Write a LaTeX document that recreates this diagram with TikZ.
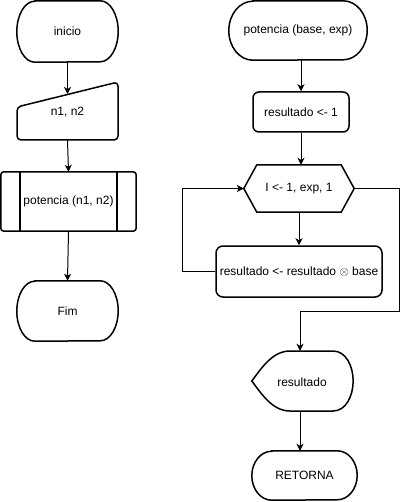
\documentclass[tikz,border=0pt]{standalone}
\usepackage{fontspec}
\setmainfont{Liberation Sans}
\usetikzlibrary{arrows.meta}
\tikzset{
  shp/.style={line width=1.5pt,black},
  txt/.style={font=\fontsize{12}{14}\selectfont,inner sep=0pt,align=center},
  connarrow/.style={line width=1pt,-{Stealth[length=7pt,width=7pt,inset=2pt]}},
}
% terminator outline: node name, x radius, y radius
\newcommand\myterm[3]{\draw[shp] ([xshift=#2]#1.north west) -- ([xshift=-#2]#1.north east)
  arc[start angle=90,end angle=-90,x radius=#2,y radius=#3] -- ([xshift=#2]#1.south west)
  arc[start angle=270,end angle=90,x radius=#2,y radius=#3] -- cycle;}
\begin{document}
\begin{tikzpicture}[x=1pt,y=1pt]
\useasboundingbox (0,0) rectangle (408,-502);
% ---------- left column ----------
\node[txt,minimum width=101pt,minimum height=61pt] (ini) at (67.5,-31.5) {inicio};
\myterm{ini}{18pt}{30.5pt}
\node[txt,minimum width=101pt,minimum height=58pt] (inp) at (67.5,-111) {};
\node[txt] (inptxt) at (67.5,-112) {n1, n2};
\draw[shp,rounded corners=4pt] (17,-140) -- (17,-107) -- (118,-82) -- (118,-140) -- cycle;
\coordinate (inptop) at (67.5,-94);
\node[txt,minimum width=135pt,minimum height=59pt] (sub) at (68.5,-201.5) {potencia (n1, n2)};
\draw[shp,rounded corners=3pt] (sub.north west) rectangle (sub.south east);
\draw[shp] ([xshift=19pt]sub.north west) -- ([xshift=19pt]sub.south west);
\draw[shp] ([xshift=-19pt]sub.north east) -- ([xshift=-19pt]sub.south east);
\node[txt,minimum width=101pt,minimum height=60pt] (fim) at (67.5,-311) {Fim};
\myterm{fim}{18pt}{30pt}
\draw[connarrow] (ini.south) -- (inptop);
\draw[connarrow] (inp.south) -- (sub.north);
\draw[connarrow] (sub.south) -- (fim.north);
% ---------- right column ----------
\node[txt,minimum width=138pt,minimum height=59pt] (pot) at (298,-30.5) {potencia (base, exp)};
\myterm{pot}{24pt}{29.5pt}
\node[txt,minimum width=96pt,minimum height=40pt,draw,shp,rounded corners=6pt] (r1) at (301,-112) {resultado <- 1};
\node[txt,minimum width=110pt,minimum height=47pt] (hex) at (299,-188.5) {I <- 1, exp, 1};
\draw[shp] (hex.west) -- ([xshift=13pt]hex.north west) -- ([xshift=-13pt]hex.north east)
  -- (hex.east) -- ([xshift=-13pt]hex.south east) -- ([xshift=13pt]hex.south west) -- cycle;
\node[txt,minimum width=166pt,minimum height=51pt,draw,shp,rounded corners=7pt] (body) at (299,-271.5) {resultado <- resultado $\otimes$ base};
\node[txt,minimum width=101pt,minimum height=60pt] (disp) at (302.5,-381) {};
\node[txt] (disptxt) at (302,-382) {resultado};
\draw[shp] (disp.west) .. controls (261,-369) and (272,-351) .. (290,-351) -- (333,-351)
  .. controls (346,-351) and (353,-366) .. (disp.east)
  .. controls (353,-396) and (346,-411) .. (333,-411) -- (290,-411)
  .. controls (272,-411) and (261,-393) .. (disp.west) -- cycle;
\node[txt,minimum width=105pt,minimum height=49pt] (ret) at (304.5,-475.5) {RETORNA};
\myterm{ret}{20pt}{24.5pt}
\coordinate (lp) at (182,-271.5);
\coordinate (rp) at (399,-188.5);
\coordinate (jn) at (300,-311);
\draw[connarrow] (pot.south -| r1.north) -- (r1.north);
\draw[connarrow] (r1.south) -- (r1.south |- hex.north);
\draw[connarrow] (hex.south) -- (body.north);
\draw[connarrow] (body.west) -- (lp) |- (hex.west);
\draw[connarrow] (hex.east) -- (rp) |- (jn) -- (jn |- disp.north);
\draw[connarrow] (disp.south -| jn) -- (ret.north -| jn);
\end{tikzpicture}
\end{document}
